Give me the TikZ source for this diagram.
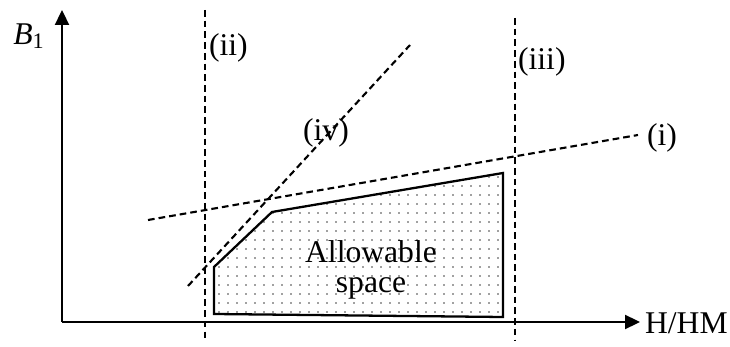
\documentclass[tikz,border=0pt]{standalone}
\usepackage{fontspec}
\setmainfont{Liberation Serif}
\newfontfamily\timesfont{Liberation Serif}
\usetikzlibrary{arrows.meta}

\begin{document}
\begin{tikzpicture}[x=0.02cm, y=-0.02cm, every node/.style={font=\timesfont\fontsize{18}{20}\selectfont, inner sep=1pt},
    bound/.style={line width=1.2pt, dash pattern=on 3.8pt off 2.3pt},
    axis/.style={line width=1.3pt, -{Triangle[length=0.3cm, width=0.28cm]}}]
    \useasboundingbox (0,0) rectangle (730,347);

    % Допустимая область
    \coordinate (p1) at (214,267);
    \coordinate (p2) at (272,212);
    \coordinate (p3) at (503,173);
    \coordinate (p4) at (503,317);
    \coordinate (p5) at (214,314);
    \begin{scope}
        \clip (p1) -- (p2) -- (p3) -- (p4) -- (p5) -- cycle;
        \foreach \x in {219,228,...,500}
            \foreach \y in {177,186,...,314}
                \fill[black!75] (\x,\y) circle (0.85);
    \end{scope}
    \draw[line width=1.3pt, line join=miter] (p1) -- (p2) -- (p3) -- (p4) -- (p5) -- cycle;
    \node[align=center] (space) at (371,270) {Allowable\\[-3pt]space};

    % Оси
    \coordinate (o) at (62,322);
    \draw[axis] (o) -- (62,10);
    \draw[axis] (o) -- (640,322);
    \node[anchor=west] (xlab) at (643,323) {H/HM};
    \node (ylab) at (29,36) {\textit{B}\textsubscript{1}};

    % Ограничения
    \draw[bound] (205,10) -- (205,340);
    \draw[bound] (515,18) -- (515,340);
    \draw[bound] (148,220) -- (638,135);
    \draw[bound] (188,286) -- (410,45);

    % Подписи
    \node[anchor=west] (lii) at (207,48) {(ii)};
    \node[anchor=west] (liii) at (516,62) {(iii)};
    \node[anchor=west] (li) at (645,138) {(i)};
    \node (liv) at (326,133) {(iv)};
\end{tikzpicture}
\end{document}
